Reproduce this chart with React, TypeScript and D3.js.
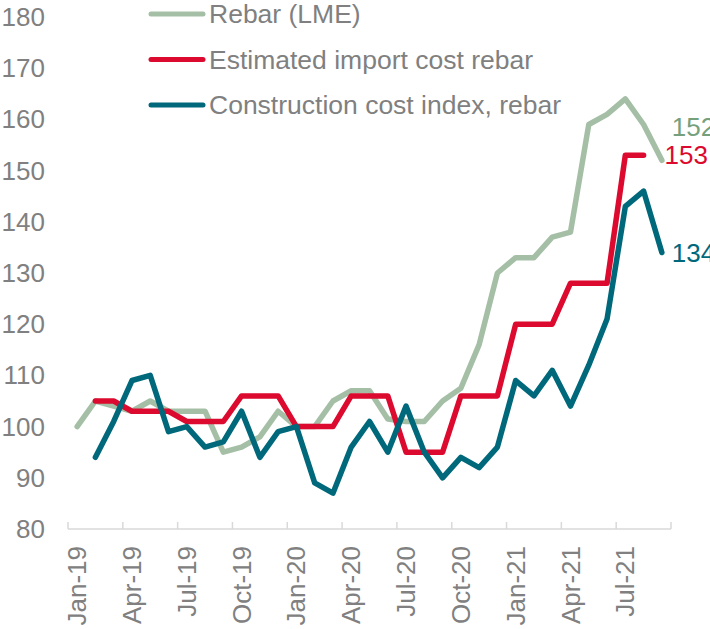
import React from "react";
import * as d3 from "d3";

const months: string[] = [
  "Jan-19","Feb-19","Mar-19","Apr-19","May-19","Jun-19","Jul-19","Aug-19","Sep-19","Oct-19","Nov-19","Dec-19",
  "Jan-20","Feb-20","Mar-20","Apr-20","May-20","Jun-20","Jul-20","Aug-20","Sep-20","Oct-20","Nov-20","Dec-20",
  "Jan-21","Feb-21","Mar-21","Apr-21","May-21","Jun-21","Jul-21","Aug-21","Sep-21",
];
const tickLabels: string[] = ["Jan-19","Apr-19","Jul-19","Oct-19","Jan-20","Apr-20","Jul-20","Oct-20","Jan-21","Apr-21","Jul-21"];
const yTicks: number[] = [80, 90, 100, 110, 120, 130, 140, 150, 160, 170, 180];

const rebarLME: (number | null)[] = [
  100, 105, 104, 103, 105, 103, 103, 103, 95, 96, 98, 103,
  100, 100, 105, 107, 107, 101.5, 101, 101, 105, 107.5, 116, 130,
  133, 133, 137, 138, 159, 161, 164, 159, 152,
];
const importCost: (number | null)[] = [
  null, 105, 105, 103, 103, 103, 101, 101, 101, 106, 106, 106,
  100, 100, 100, 106, 106, 106, 95, 95, 95, 106, 106, 106,
  120, 120, 120, 128, 128, 128, 153, 153, null,
];
const constructionIdx: (number | null)[] = [
  null, 94, 101, 109, 110, 99, 100, 96, 97, 103, 94, 99,
  100, 89, 87, 96, 101, 95, 104, 95, 90, 94, 92, 96,
  109, 106, 111, 104, 112, 121, 143, 146, 134,
];

const seriesNames = ["Rebar (LME)", "Estimated import cost rebar", "Construction cost index, rebar"];
const seriesColors = ["#a5bfa6", "#dc0a2e", "#00687b"];
const endLabelColors = ["#76a07c", "#dc0a2e", "#00687b"];
const endLabels = ["152", "153", "134"];

export default function App() {
  const W = 710, H = 629;
  const left = 68, right = 671, top = 17, bottom = 529;
  const font = "'Liberation Sans', Arial, sans-serif";
  const gray = "#808080";
  const fs = 26;

  const x = d3.scaleBand<string>().domain(months).range([left, right]).padding(0);
  const y = d3.scaleLinear().domain([80, 180]).range([bottom, top]);
  const cx = (m: string) => (x(m) as number) + x.bandwidth() / 2;

  const series = [rebarLME, importCost, constructionIdx];
  const line = d3
    .line<number | null>()
    .defined((d) => d != null)
    .x((_, i) => cx(months[i]))
    .y((d) => y(d as number));

  const tickXs = d3.range(0, months.length + 1, 3).map((i) =>
    i < months.length ? (x(months[i]) as number) : right
  );

  const lastIdx = (arr: (number | null)[]) => {
    for (let i = arr.length - 1; i >= 0; i--) if (arr[i] != null) return i;
    return 0;
  };
  const endLabelDy = [-33, 0, 0];

  return (
    <svg width={W} height={H} style={{ position: "absolute", left: 0, top: 0, background: "#fff" }} fontFamily={font}>
      {yTicks.map((t) => (
        <text key={t} x={45} y={y(t)} textAnchor="end" dominantBaseline="central" fontSize={fs} fill={gray}>
          {t}
        </text>
      ))}
      <line x1={left} x2={right} y1={bottom} y2={bottom} stroke="#d9d9d9" strokeWidth={1.5} />
      {tickXs.map((tx, i) => (
        <line key={i} x1={tx} x2={tx} y1={bottom} y2={bottom - 7} stroke="#d9d9d9" strokeWidth={1.5} />
      ))}
      {tickLabels.map((lab) => (
        <text
          key={lab}
          transform={`translate(${cx(lab)},${bottom + 17}) rotate(-90)`}
          textAnchor="end"
          dominantBaseline="central"
          fontSize={fs}
          fill={gray}
        >
          {lab}
        </text>
      ))}
      {series.map((s, k) => (
        <path
          key={k}
          d={line(s) || ""}
          fill="none"
          stroke={seriesColors[k]}
          strokeWidth={5.5}
          strokeLinejoin="round"
          strokeLinecap="round"
        />
      ))}
      {series.map((s, k) => {
        const i = lastIdx(s);
        return (
          <text
            key={k}
            x={cx(months[i]) + (k === 1 ? 21 : 10)}
            y={y(s[i] as number) + endLabelDy[k]}
            dominantBaseline="central"
            fontSize={fs}
            fill={endLabelColors[k]}
          >
            {endLabels[k]}
          </text>
        );
      })}
      {seriesNames.map((n, k) => (
        <g key={n} transform={`translate(0,${14 + k * 45.5})`}>
          <line x1={151} x2={203} y1={0} y2={0} stroke={seriesColors[k]} strokeWidth={5} strokeLinecap="round" />
          <text x={209} y={0} dominantBaseline="central" fontSize={26.5} fill={gray}>
            {n}
          </text>
        </g>
      ))}
    </svg>
  );
}
